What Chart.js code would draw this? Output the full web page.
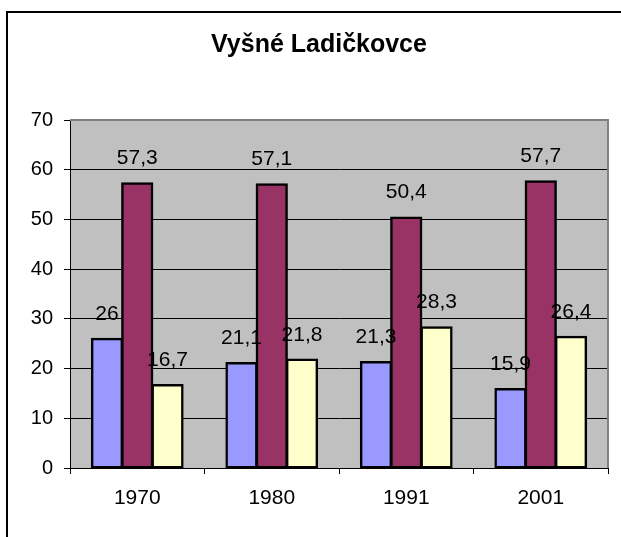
<!DOCTYPE html>
<html>
<head>
<meta charset="utf-8">
<script src="https://cdn.jsdelivr.net/npm/chart.js@4/dist/chart.umd.min.js"></script>
<style>
  html, body { margin: 0; padding: 0; background: #fff; }
  #wrap { width: 621px; height: 537px; position: relative; }
</style>
</head>
<body>
<div id="wrap"><canvas id="myChart"></canvas></div>
<script>
// data
const titleText = 'Vyšné Ladičkovce'
const years = ['1970', '1980', '1991', '2001']
const seriesBlue = [26, 21.1, 21.3, 15.9]
const seriesRed = [57.3, 57.1, 50.4, 57.7]
const seriesYellow = [16.7, 21.8, 28.3, 26.4]
const yTicks = [0, 10, 20, 30, 40, 50, 60, 70]

const FONT = 'Arial, "Liberation Sans", sans-serif'

// frame, plot background, title
const framePlugin = {
  id: 'frame',
  beforeDraw(chart) {
    const c = chart.ctx
    const a = chart.chartArea
    c.save()
    c.fillStyle = '#fff'
    c.fillRect(0, 0, chart.width, chart.height)
    c.fillStyle = '#c0c0c0'
    c.fillRect(a.left, a.top, a.right - a.left, a.bottom - a.top)
    // outer border (top + left only visible)
    c.strokeStyle = '#000'
    c.lineWidth = 2
    c.beginPath()
    c.moveTo(7, chart.height)
    c.lineTo(7, 12)
    c.lineTo(chart.width, 12)
    c.stroke()
    // title
    c.fillStyle = '#000'
    c.font = 'bold 25px ' + FONT
    c.textAlign = 'center'
    c.textBaseline = 'alphabetic'
    c.fillText(titleText, 319, 52)
    c.restore()
  },
  afterDraw(chart) {
    const c = chart.ctx
    const a = chart.chartArea
    c.save()
    c.strokeStyle = '#808080'
    c.lineWidth = 2
    c.beginPath()
    c.moveTo(a.left, a.top)
    c.lineTo(a.right, a.top)
    c.lineTo(a.right, a.bottom)
    c.stroke()
    c.restore()
  }
}

// value labels above bars
const labelPlugin = {
  id: 'valueLabels',
  afterDatasetsDraw(chart) {
    const c = chart.ctx
    c.save()
    c.fillStyle = '#000'
    c.font = '21px ' + FONT
    c.textAlign = 'center'
    c.textBaseline = 'alphabetic'
    chart.data.datasets.forEach((ds, i) => {
      chart.getDatasetMeta(i).data.forEach((bar, j) => {
        const txt = String(ds.data[j]).replace('.', ',')
        c.fillText(txt, bar.x, bar.y - 19)
      })
    })
    c.restore()
  }
}

const ctx = document.getElementById('myChart').getContext('2d')
const myChart = new Chart(ctx, {
  type: 'bar',
  data: {
    labels: years,
    datasets: [
      { label: 'A', data: seriesBlue, backgroundColor: '#9999ff' },
      { label: 'B', data: seriesRed, backgroundColor: '#993366' },
      { label: 'C', data: seriesYellow, backgroundColor: '#ffffcc' }
    ].map(d => Object.assign(d, {
      borderColor: '#000',
      borderWidth: 2.5,
      borderSkipped: false,
      inflateAmount: 1,
      categoryPercentage: 0.675,
      barPercentage: 1
    }))
  },
  options: {
    responsive: true,
    maintainAspectRatio: false,
    animation: false,
    layout: { padding: { top: 120, right: 13, left: 0, bottom: 0 } },
    plugins: {
      legend: { display: false },
      title: { display: false },
      tooltip: { enabled: false }
    },
    scales: {
      x: {
        afterFit: s => { s.height = 69 },
        grid: {
          offset: true,
          drawOnChartArea: false,
          drawTicks: true,
          tickLength: 6,
          tickColor: '#000'
        },
        border: { color: '#000', width: 1 },
        ticks: { color: '#000', font: { family: FONT, size: 21 }, padding: 12 }
      },
      y: {
        min: 0,
        max: 70,
        afterFit: s => { s.width = 70 },
        afterBuildTicks: s => { s.ticks = yTicks.map(v => ({ value: v })) },
        grid: {
          color: c => c.tick && c.tick.value === 70 ? '#808080' : '#000',
          lineWidth: 1,
          tickLength: 6,
          tickColor: '#000'
        },
        border: { color: '#000', width: 1 },
        ticks: { color: '#000', font: { family: FONT, size: 20 }, padding: 11 }
      }
    }
  },
  plugins: [framePlugin, labelPlugin]
})
</script>
</body>
</html>
